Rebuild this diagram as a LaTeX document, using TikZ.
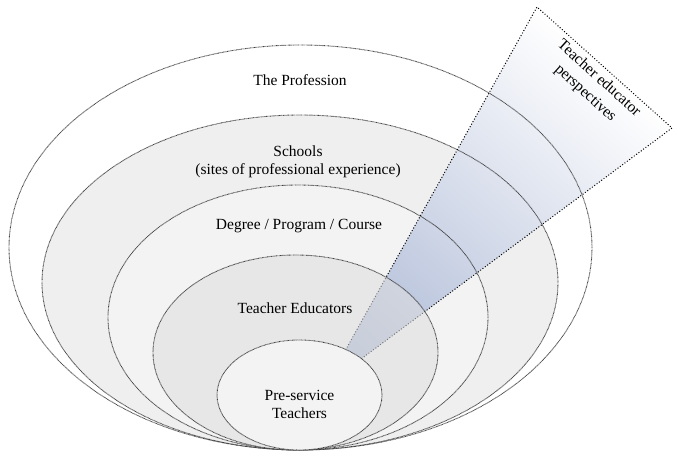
\documentclass[tikz,border=0pt]{standalone}
\usepackage{fontspec}
\setmainfont{Liberation Serif}
\definecolor{bandschool}{HTML}{EFEFEF}
\definecolor{banddegree}{HTML}{F3F3F3}
\definecolor{bandeducator}{HTML}{DEDEDE}
\definecolor{bandstudent}{HTML}{F3F3F3}
\definecolor{wedgedeep}{HTML}{A5B3D2}
\definecolor{wedgemid}{HTML}{C4CDE2}
\begin{document}
\begin{tikzpicture}[x=1pt,y=-1pt,
  ring/.style={draw=black!75, line width=0.9pt, dash pattern=on 0.7pt off 0.6pt},
  wedgeline/.style={draw=black, line width=1.4pt, line cap=round, dash pattern=on 0pt off 2.9pt},
  lbl/.style={font=\fontsize{15.5}{18.5}\selectfont, text=black, align=center, inner sep=0pt}]
\useasboundingbox (0,0) rectangle (673,454);

% wedge corners
\coordinate (apex) at (326,385);
\coordinate (wtl) at (537,7);
\coordinate (wtr) at (672,128);

% band fills
\fill[white] (300.5,247.5) ellipse [x radius=291.5, y radius=202.5];
\fill[bandschool] (300,282.5) ellipse [x radius=258, y radius=167.5];
\fill[banddegree] (298,317.5) ellipse [x radius=190, y radius=132.5];

% perspective wedge, shaded along its axis
\begin{scope}
  \clip (apex) -- (wtl) -- (wtr) -- cycle;
  \begin{scope}[transform canvas={shift={(apex)}, rotate=48.7}]
    \shade[left color=wedgedeep, middle color=wedgemid, right color=white]
      (0,-260) rectangle (425,260);
  \end{scope}
\end{scope}

% outlines of the outer bands
\draw[ring] (300.5,247.5) ellipse [x radius=291.5, y radius=202.5];
\draw[ring] (300,282.5) ellipse [x radius=258, y radius=167.5];
\draw[ring] (298,317.5) ellipse [x radius=190, y radius=132.5];

% wedge outline
\draw[wedgeline] (apex) -- (wtl) -- (wtr) -- cycle;

% teacher educators band, translucent over the wedge
\fill[bandeducator, fill opacity=0.55] (295.5,352.5) ellipse [x radius=142.5, y radius=97.5];
\draw[ring] (295.5,352.5) ellipse [x radius=142.5, y radius=97.5];

% pre-service core
\fill[bandstudent] (299.5,395) ellipse [x radius=82.5, y radius=55];
\draw[ring] (299.5,395) ellipse [x radius=82.5, y radius=55];

% labels (base anchor sits on the last line)
\node[lbl, anchor=base] (profession) at (300,86) {The Profession};
\node[lbl, anchor=base] (schools) at (298,175) {Schools\\(sites of professional experience)};
\node[lbl, anchor=base] (degree) at (299,230) {Degree / Program / Course};
\node[lbl, anchor=base] (educators) at (295,314) {Teacher Educators};
\node[lbl, anchor=base] (preservice) at (299.5,419) {Pre-service\\Teachers};
\node[lbl, rotate=-42, font=\fontsize{15.5}{20}\selectfont] (perspective) at (592,86) {Teacher educator\\perspectives};
\end{tikzpicture}
\end{document}
